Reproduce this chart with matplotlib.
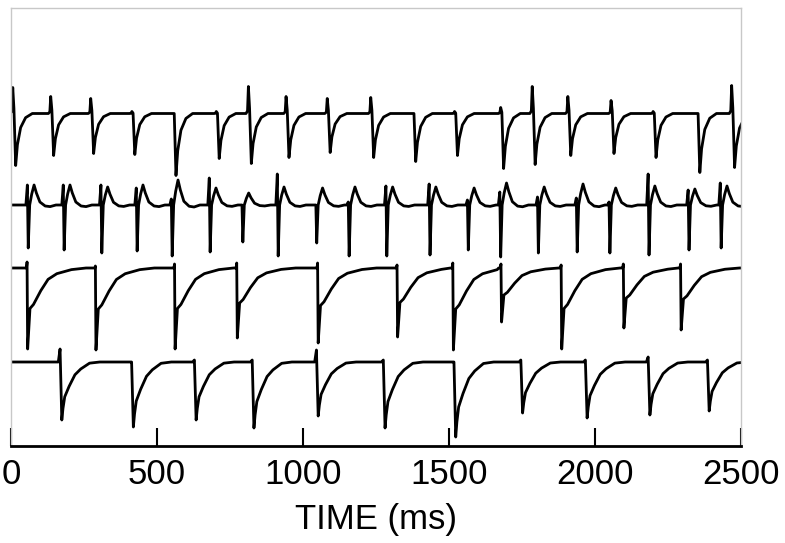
import numpy as np
import matplotlib.pyplot as plt

plt.rcParams['font.family'] = ['Liberation Sans', 'DejaVu Sans']

# activation times (ms) and deflection sizes (arbitrary units)
beats1 = [6, 136, 273, 414, 555, 703, 813, 942, 1083, 1232, 1376, 1519, 1677, 1785, 1907, 2055, 2199, 2349, 2468]
spike1 = [26, 17, 15, 2, 0, 2, 27, 17, 15, 16, 0, 2, 6, 27, 17, 13, 2, 0, 28]
dip1 = [52, 42, 40, 41, 62, 45, 50, 44, 39, 44, 48, 42, 55, 51, 42, 40, 44, 59, 54]

beats2 = [59, 182, 311, 432, 552, 682, 794, 915, 1047, 1158, 1287, 1435, 1566, 1677, 1806, 1939, 2051, 2185, 2322, 2432]
spike2 = [20, 20, 20, 17, 6, 27, 0, 31, 0, 3, 19, 21, 5, 13, 8, 7, 3, 31, 15, 22]
dip2 = [43, 45, 48, 46, 51, 47, 37, 51, 38, 51, 51, 50, 45, 52, 48, 47, 48, 50, 45, 43]
bump2 = [20, 20, 18, 20, 25, 17, 12, 18, 17, 18, 18, 18, 17, 22, 18, 21, 17, 19, 16, 19]

beats3 = [57, 291, 562, 775, 1052, 1324, 1515, 1680, 1886, 2099, 2295]
notch3 = [6, 2, 4, 5, 5, 3, 5, 4, 3, 4, 4]
dip3 = [81, 82, 81, 70, 75, 69, 82, 54, 81, 60, 62]

beats4 = [174, 419, 634, 832, 1052, 1281, 1523, 1752, 1973, 2188, 2391]
pre4 = [13, 0, 2, 2, 12, 2, 0, 2, 2, 5, 2]
dip4 = [58, 65, 58, 66, 54, 66, 75, 51, 56, 53, 49]

# single-beat shapes: offset from activation (ms) and fraction of each deflection
tpl1_t = [-8, -3, 0, 4, 10, 16, 27, 44, 67, 110]
tpl1_spk = [0, 0.1, 1, 0.2, 0, 0, 0, 0, 0, 0]
tpl1_dip = [0, 0, 0, 0, -1, -0.6, -0.27, -0.08, 0, 0]

tpl2_t = [-8, -3, 0, 5, 12, 20, 28, 40, 58, 75, 95]
tpl2_spk = [0, 1, 0, 0, 0, 0, 0, 0, 0, 0, 0]
tpl2_dip = [0, 0, -1, 0, 0, 0, 0, 0, 0, 0, 0]
tpl2_bmp = [0, 0, 0, 0, 0.55, 1, 0.6, 0.15, -0.05, -0.08, 0]

tpl3_t = [-10, -4, -2, 0, 8, 20, 45, 70, 100, 150, 200]
tpl3_pre = [0, 0, 1, 0, 0, 0, 0, 0, 0, 0, 0]
tpl3_dip = [0, 0, 0, -1, -0.5, -0.45, -0.28, -0.14, -0.07, -0.02, 0]

tpl4_t = [-12, -6, 0, 4, 10, 25, 45, 65, 95, 130]
tpl4_pre = [0, 1, 0, 0, 0, 0, 0, 0, 0, 0]
tpl4_dip = [0, 0, -1, -0.8, -0.6, -0.42, -0.22, -0.12, -0.02, 0]

baselines = [332.5, 241, 178, 84]


def build(beats, tpl_t, parts, base):
    xs, ys = [], []
    if beats[0] + tpl_t[0] > 0:
        xs.append(0)
        ys.append(base)
    for i, t0 in enumerate(beats):
        nxt = beats[i + 1] + tpl_t[0] if i + 1 < len(beats) else np.inf
        for k, dt in enumerate(tpl_t):
            if t0 + dt >= nxt:
                break
            xs.append(t0 + dt)
            ys.append(base + sum(amp[i] * frac[k] for amp, frac in parts))
    if xs[-1] < 2500:
        xs.append(2500)
        ys.append(base)
    return xs, ys


traces = [
    build(beats1, tpl1_t, [(spike1, tpl1_spk), (dip1, tpl1_dip)], baselines[0]),
    build(beats2, tpl2_t, [(spike2, tpl2_spk), (dip2, tpl2_dip), (bump2, tpl2_bmp)], baselines[1]),
    build(beats3, tpl3_t, [(notch3, tpl3_pre), (dip3, tpl3_dip)], baselines[2]),
    build(beats4, tpl4_t, [(pre4, tpl4_pre), (dip4, tpl4_dip)], baselines[3]),
]

fig = plt.figure(figsize=(7.85, 5.43), dpi=100)
ax = fig.add_axes([11 / 785, 97 / 543, 730 / 785, 438 / 543])

for xs, ys in traces:
    ax.plot(xs, ys, color='black', lw=2.0, solid_joinstyle='round')

ax.set_xlim(0, 2500)
ax.set_ylim(0, 438)
ax.set_xticks([0, 500, 1000, 1500, 2000, 2500])
ax.set_yticks([])
ax.tick_params(axis='x', direction='in', length=13, width=1.5, labelsize=25, pad=9)
for side in ['left', 'top', 'right']:
    ax.spines[side].set_color('#c8c8c8')
    ax.spines[side].set_linewidth(1)
ax.spines['bottom'].set_linewidth(2)
ax.set_xlabel('TIME (ms)', fontsize=25, labelpad=8)

fig.savefig('out.png', dpi=100)
